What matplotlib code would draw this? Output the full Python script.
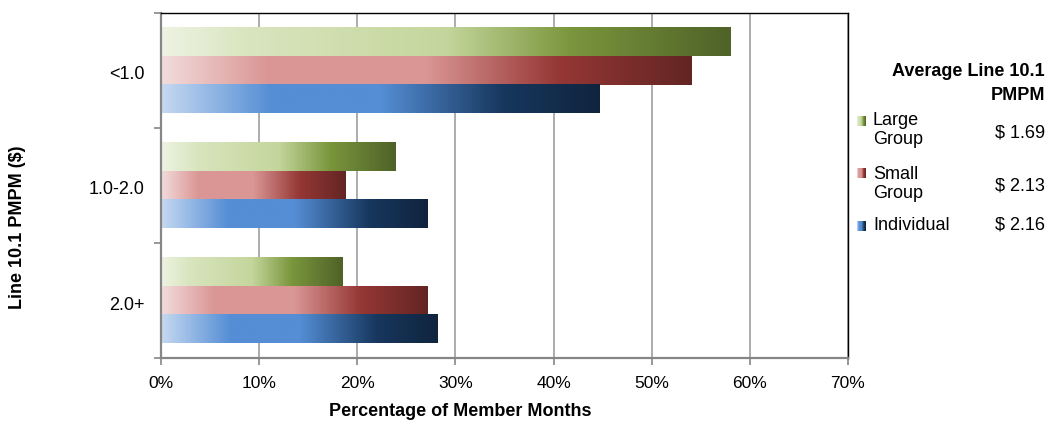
# %% imports

import numpy as np
import matplotlib
matplotlib.use('Agg')
import matplotlib.pyplot as plt
from matplotlib.colors import LinearSegmentedColormap

plt.rcParams['font.family'] = ['Liberation Sans', 'DejaVu Sans']

# %% data

categories = ['<1.0', '1.0-2.0', '2.0+']
series = ['Large\nGroup', 'Small\nGroup', 'Individual']
large_group = [58.0, 23.9, 18.5]
small_group = [54.1, 18.8, 27.2]
individual = [44.7, 27.2, 28.2]
avg_pmpm = ['$ 1.69', '$ 2.13', '$ 2.16']
xticks = [0, 10, 20, 30, 40, 50, 60, 70]

# %% colours (gradient stops, light -> dark along each bar)

green = LinearSegmentedColormap.from_list('g', [
    (0.0, '#eef3e3'), (0.15, '#d9e5bf'), (0.5, '#c4d69c'),
    (0.72, '#7a963c'), (1.0, '#4f6228')])
red = LinearSegmentedColormap.from_list('r', [
    (0.0, '#f2dcdc'), (0.2, '#da9694'), (0.5, '#da9694'),
    (0.75, '#953735'), (1.0, '#632523')])
blue = LinearSegmentedColormap.from_list('b', [
    (0.0, '#c6d9f1'), (0.25, '#558ed5'), (0.5, '#558ed5'),
    (0.78, '#17375e'), (1.0, '#10243e')])
cmaps = [green, red, blue]
grad = np.linspace(0, 1, 256).reshape(1, -1)

# %% plot

fig = plt.figure(figsize=(10.51, 4.23), dpi=100)
ax = fig.add_axes([161 / 1051, 1 - 358 / 423, 687 / 1051, 345 / 423])

bar_h = 0.246
values = [large_group, small_group, individual]
for s, (vals, cm) in enumerate(zip(values, cmaps)):
    for i, v in enumerate(vals):
        yc = i + 0.5 + (s - 1) * bar_h
        ax.imshow(grad, cmap=cm, aspect='auto', interpolation='bilinear',
                  extent=[0, v, yc + bar_h / 2, yc - bar_h / 2], zorder=2)

ax.set_xlim(0, 70)
ax.set_ylim(3, 0)

ax.set_xticks(xticks)
ax.set_xticklabels(['%d%%' % t for t in xticks], fontsize=12.5)
ax.set_yticks([0, 1, 2, 3])
ax.set_yticklabels([])
ax.set_yticks([0.52, 1.52, 2.53], minor=True)
ax.set_yticklabels(categories, minor=True, fontsize=13)
ax.tick_params(axis='y', which='major', length=5, width=1.2, color='#868686', direction='out')
ax.tick_params(axis='y', which='minor', length=0, pad=12)
ax.tick_params(axis='x', length=5, width=1.2, color='#868686', direction='out', pad=8)

ax.grid(axis='x', color='#a6a6a6', linewidth=1.3, zorder=0)
ax.set_axisbelow(True)
for side in ['left', 'bottom']:
    ax.spines[side].set_color('#868686')
    ax.spines[side].set_linewidth(1.6)
for side in ['top', 'right']:
    ax.spines[side].set_color('black')
    ax.spines[side].set_linewidth(1.0)

fig.text(460 / 1051, 1 - 411 / 423, 'Percentage of Member Months',
         ha='center', va='center', fontsize=13, fontweight='bold')
fig.text(18 / 1051, 1 - 227 / 423, 'Line 10.1 PMPM ($)', rotation=90,
         ha='center', va='center', fontsize=13, fontweight='bold')

# %% legend panel

lg = fig.add_axes([0, 0, 1, 1], zorder=5)
lg.axis('off')
lg.patch.set_alpha(0)

lg.text(1045, 72, 'Average Line 10.1', ha='right', va='center',
        fontsize=13, fontweight='bold')
lg.text(1045, 95, 'PMPM', ha='right', va='center',
        fontsize=13, fontweight='bold')

label_y = [130, 184, 226]
swatch_y = [121, 173, 226]
value_y = [133, 186, 225]
for s, (name, val, cm) in enumerate(zip(series, avg_pmpm, cmaps)):
    sy = swatch_y[s]
    lg.imshow(grad, cmap=cm, aspect='auto', interpolation='bilinear',
              extent=[857, 866, sy + 5, sy - 5])
    lg.text(873, label_y[s], name, ha='left', va='center',
            fontsize=13, linespacing=1.15)
    lg.text(1045, value_y[s], val, ha='right', va='center', fontsize=13)

lg.set_xlim(0, 1051)
lg.set_ylim(423, 0)

fig.savefig('out.png', dpi=100)
